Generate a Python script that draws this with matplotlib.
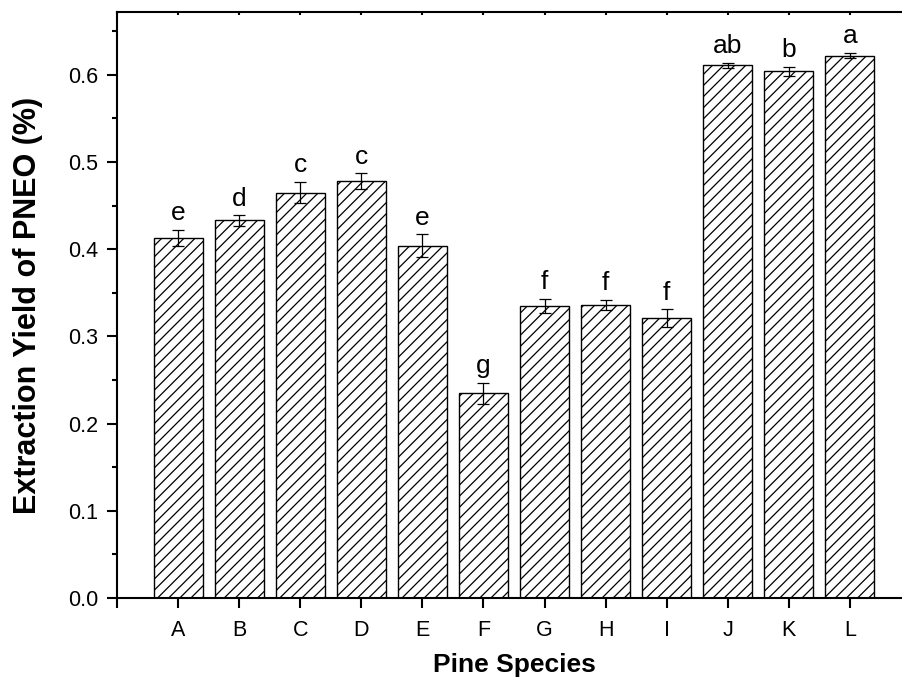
import matplotlib.pyplot as plt
from matplotlib.ticker import MultipleLocator

plt.rcParams['font.family'] = ['Liberation Sans', 'DejaVu Sans']
plt.rcParams['hatch.linewidth'] = 0.9

# Extraction yield per pine species
species = ['A', 'B', 'C', 'D', 'E', 'F', 'G', 'H', 'I', 'J', 'K', 'L']
yield_pct = [0.413, 0.433, 0.465, 0.478, 0.404, 0.235, 0.335, 0.336, 0.321, 0.611, 0.604, 0.622]
yield_err = [0.009, 0.006, 0.012, 0.009, 0.013, 0.012, 0.008, 0.006, 0.010, 0.003, 0.005, 0.003]
groups = ['e', 'd', 'c', 'c', 'e', 'g', 'f', 'f', 'f', 'ab', 'b', 'a']

fig = plt.figure(figsize=(9.02, 6.77), dpi=100)
# axes run past the right edge, as in the cropped original
ax = fig.add_axes([117 / 902, 79 / 677, 794 / 902, 586 / 677])

pos = list(range(1, len(species) + 1))
ax.bar(pos, yield_pct, width=0.8, color='white', edgecolor='black',
       linewidth=1.0, hatch='///')
ax.errorbar(pos, yield_pct, yerr=yield_err, fmt='none', ecolor='black',
            elinewidth=0.9, capsize=4, capthick=0.9)

for x, y, e, g in zip(pos, yield_pct, yield_err, groups):
    ax.text(x, y + e + 0.011, g, ha='center', va='baseline', fontsize=19)

ax.set_xlim(0, 13)
ax.set_ylim(0, 0.672)
ax.set_xticks([0] + pos)
ax.set_xticklabels([''] + species)
ax.yaxis.set_major_locator(MultipleLocator(0.1))
ax.yaxis.set_minor_locator(MultipleLocator(0.05))
ax.yaxis.set_major_formatter(plt.FuncFormatter(lambda v, p: f'{v:.1f}'))

for s in ax.spines.values():
    s.set_linewidth(1.5)
ax.tick_params(axis='both', which='major', direction='out', length=7.5,
               width=1.5, labelsize=15.5)
ax.tick_params(axis='x', which='major', pad=8)
ax.tick_params(axis='y', which='major', pad=6)
ax.tick_params(axis='y', which='minor', direction='out', length=3.6, width=1.5)
ax.tick_params(axis='x', which='major', top=True, labeltop=False)
for t in ax.xaxis.get_major_ticks():
    t.tick2line.set_markersize(2)
    t.tick2line.set_marker(3)  # small tick pointing down, inside the axes

ax.set_xlabel('Pine Species', fontsize=19, fontweight='bold', labelpad=9)
ax.set_ylabel('Extraction Yield of PNEO (%)', fontsize=22, fontweight='bold', labelpad=18)

fig.savefig('out.png', dpi=100)
